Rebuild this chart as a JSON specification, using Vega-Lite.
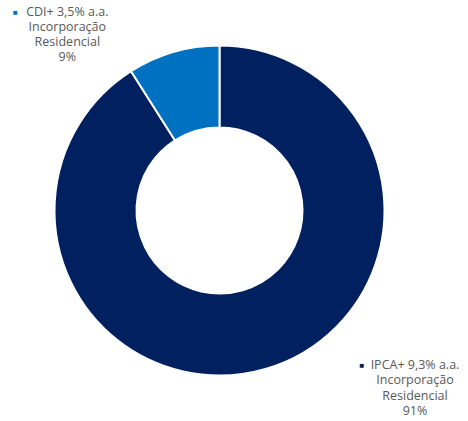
{
  "$schema": "https://vega.github.io/schema/vega-lite/v6.json",
  "width": 439,
  "height": 421,
  "autosize": "none",
  "padding": {"left": 0, "top": 0, "right": 29, "bottom": 0},
  "background": "white",
  "config": {"view": {"stroke": null}},
  "data": {
    "values": [
      {"name": "IPCA+ 9,3% a.a.", "line2": "Incorporação", "line3": "Residencial", "pct": "91%", "value": 91, "order": 1},
      {"name": "CDI+ 3,5% a.a.", "line2": "Incorporação", "line3": "Residencial", "pct": "9%", "value": 9, "order": 2}
    ]
  },
  "transform": [
    {"stack": "value", "groupby": [], "sort": [{"field": "order"}], "as": ["v0", "v1"]}
  ],
  "layer": [
    {
      "mark": {"type": "arc", "outerRadius": 165, "innerRadius": 83, "stroke": "white", "strokeWidth": 2},
      "encoding": {
        "theta": {"field": "v0", "type": "quantitative", "scale": {"domain": [0, 100]}},
        "theta2": {"field": "v1"},
        "color": {"field": "name", "type": "nominal", "scale": {"domain": ["IPCA+ 9,3% a.a.", "CDI+ 3,5% a.a."], "range": ["#002060", "#0070C0"]}, "legend": null}
      }
    },
    {
      "transform": [{"filter": "datum.order == 2"}],
      "mark": {"type": "text", "radius": 172, "align": "center", "baseline": "top", "fontSize": 12.5, "font": "Open Sans", "color": "#595959", "lineHeight": 15, "dx": -60, "dy": -59},
      "encoding": {
        "theta": {"field": "v0", "type": "quantitative", "scale": {"domain": [0, 100]}},
        "text": {"value": ["CDI+ 3,5% a.a.", "Incorporação", "Residencial", "9%"]}
      }
    },
    {
      "transform": [{"filter": "datum.order == 2"}],
      "mark": {"type": "text", "radius": 172, "align": "center", "baseline": "middle", "fontSize": 8, "color": "#0070C0", "dx": -112, "dy": -52},
      "encoding": {
        "theta": {"field": "v0", "type": "quantitative", "scale": {"domain": [0, 100]}},
        "text": {"value": "■"}
      }
    },
    {
      "transform": [{"filter": "datum.order == 1"}],
      "mark": {"type": "text", "radius": 0, "align": "center", "baseline": "top", "fontSize": 12.5, "font": "Open Sans", "color": "#595959", "lineHeight": 15.5, "dx": 195.5, "dy": 148},
      "encoding": {
        "theta": {"field": "v0", "type": "quantitative", "scale": {"domain": [0, 100]}},
        "text": {"value": ["IPCA+ 9,3% a.a.", "Incorporação", "Residencial", "91%"]}
      }
    },
    {
      "transform": [{"filter": "datum.order == 1"}],
      "mark": {"type": "text", "radius": 0, "align": "center", "baseline": "middle", "fontSize": 8, "color": "#002060", "dx": 142.5, "dy": 155.5},
      "encoding": {
        "theta": {"field": "v0", "type": "quantitative", "scale": {"domain": [0, 100]}},
        "text": {"value": "■"}
      }
    }
  ]
}
